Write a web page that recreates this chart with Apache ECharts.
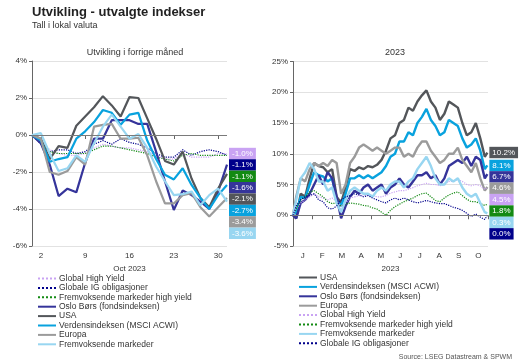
<!DOCTYPE html>
<html><head><meta charset="utf-8">
<script src="https://cdn.jsdelivr.net/npm/echarts@6/dist/echarts.min.js"></script>
<style>html,body{margin:0;padding:0;background:#fff}#c{width:522px;height:363px}</style>
</head><body><div id="c"></div>
<script>
// ---------- DATA ----------
const octDates = ['29.09','02.10','03.10','04.10','05.10','06.10','09.10','10.10','11.10','12.10','13.10','16.10','17.10','18.10','19.10','20.10','23.10','24.10','25.10','26.10','27.10','30.10','31.10'];
const octTickDates = ['02.10','09.10','16.10','23.10','30.10'];
const months = ['J','F','M','A','M','J','J','A','S','O'];
const yearDays = [0,5,12,19,26,33,40,47,54,61,68,75,82,89,96,103,110,117,124,131,138,145,152,159,166,173,180,187,194,201,208,215,222,229,236,243,250,257,264,271,278,285,292,299,303];

// left: October (% since 29.09)
const octGHY   = [0,-0.3,-0.8,-1.0,-1.1,-1.1,-1.0,-0.7,-0.5,-0.6,-0.7,-0.7,-0.8,-0.9,-1.1,-1.3,-1.3,-1.0,-1.2,-1.2,-1.2,-1.0,-1.0];
const octIG    = [0,-0.5,-0.9,-0.8,-0.8,-1.0,-0.9,-0.5,-0.3,-0.5,-0.2,-0.4,-0.5,-0.7,-1.0,-1.2,-1.2,-0.8,-1.1,-0.9,-0.8,-0.9,-1.1];
const octEMHY  = [0,-0.4,-0.9,-1.0,-1.0,-1.0,-1.0,-0.8,-0.6,-0.6,-0.7,-0.8,-0.9,-1.0,-1.2,-1.3,-1.4,-1.1,-1.0,-1.1,-1.1,-1.1,-1.1];
const octOslo  = [0,-0.45,-1.6,-3.3,-2.9,-3.1,-1.5,-0.2,-0.2,0.8,0.8,0.8,0.6,0.6,-0.9,-2.5,-4.05,-3.0,-3.25,-3.6,-4.0,-3.05,-1.6];
const octUSA   = [0,-0.2,-1.3,-0.6,-0.7,0.5,1.0,1.5,2.1,1.6,1.0,2.05,2.0,0.9,-0.2,-1.4,-1.6,-0.9,-2.35,-3.4,-3.9,-2.9,-2.1];
const octACWI  = [0,-0.3,-1.45,-1.3,-1.2,-0.2,0.2,0.7,1.35,1.2,0.55,1.1,1.2,-0.3,-1.3,-2.15,-2.4,-1.8,-2.7,-3.4,-4.0,-3.25,-2.7];
const octEUR   = [0,-0.2,-2.0,-2.15,-1.95,-1.2,-1.6,0.45,0.55,0.6,-0.2,-0.2,-0.15,-1.1,-2.5,-3.7,-3.7,-3.25,-3.15,-3.9,-4.4,-3.9,-3.4];
const octEM    = [0,0.1,-1.0,-1.95,-1.8,-1.1,-1.45,-0.45,0.45,1.1,0.45,-0.2,0.05,-0.7,-1.7,-2.5,-3.25,-3.2,-3.05,-3.8,-3.25,-2.9,-3.6];

// right: 2023 YTD (%), one value per yearDays entry
const yUSA  = [0,-0.5,3.5,3.0,6.0,8.5,8.0,7.8,7.0,7.5,3.0,2.0,4.5,7.5,7.2,7.8,7.5,8.0,7.8,8.2,9.0,10.5,12.5,13.0,15.0,15.5,17.5,17.0,18.5,19.5,20.3,18.5,17.5,15.5,16.5,18.5,18.0,17.5,15.0,13.0,13.5,15.0,12.5,9.5,10.2];
const yACWI = [0,0.5,3.0,2.8,5.0,7.0,6.5,6.3,5.5,6.0,2.5,1.5,3.5,6.0,6.0,6.5,6.0,6.5,6.0,6.5,7.0,8.0,9.5,10.0,12.0,12.0,13.5,13.0,15.0,16.0,17.3,15.5,14.5,13.0,13.5,15.5,15.0,14.5,12.5,11.0,11.5,12.5,10.5,7.5,8.1];
const yOslo = [0,-0.5,2.0,2.5,3.5,5.0,6.5,5.0,7.0,6.0,3.0,-0.5,1.5,3.0,4.0,3.5,4.5,5.0,4.0,4.5,5.0,3.5,4.5,5.0,6.0,5.0,4.5,5.5,6.5,6.5,7.0,6.0,6.5,5.0,6.0,8.0,8.5,9.0,8.5,9.5,8.0,9.5,9.0,6.0,6.7];
const yEUR  = [0,3.0,6.0,5.5,7.5,8.5,8.0,8.5,8.0,9.0,8.5,3.5,5.0,8.5,9.5,11.0,11.5,11.0,10.5,11.0,10.5,10.0,10.5,11.0,11.0,9.5,10.0,9.5,11.0,12.0,12.0,10.5,9.5,8.5,9.0,10.0,10.0,11.0,9.0,8.0,7.0,8.5,6.0,4.0,4.6];
const yGHY  = [0,1.0,2.0,2.5,3.0,3.5,3.0,2.8,2.5,2.8,2.2,1.5,2.0,2.8,3.0,3.2,3.3,3.3,3.2,3.0,3.0,3.2,3.6,3.8,4.0,4.0,4.2,4.5,4.8,5.0,5.2,5.0,5.0,4.8,5.0,5.5,5.5,5.8,5.5,5.0,4.8,5.0,4.8,4.2,4.5];
const yEMHY = [0,1.0,2.5,3.0,3.8,4.0,3.5,3.0,2.2,1.9,2.0,1.5,1.8,2.0,1.9,1.8,1.6,1.5,1.2,1.0,0.5,0.0,0.8,1.4,1.8,2.2,2.5,2.8,3.2,3.5,3.6,3.0,2.4,2.2,2.8,3.3,3.6,3.8,3.2,2.6,2.2,2.2,1.9,1.6,1.8];
const yEM   = [0,2.5,6.0,7.0,8.5,7.5,5.5,5.5,4.0,4.5,2.0,0.5,2.5,4.0,4.5,4.0,3.5,3.5,3.0,4.0,4.5,4.0,5.0,5.5,5.5,4.5,5.5,6.0,7.5,8.5,9.5,8.0,6.0,5.0,5.0,6.0,5.5,6.0,4.5,3.5,3.0,3.5,2.0,0.5,0.3];
const yIG   = [0,1.5,2.5,3.0,3.2,3.5,2.5,2.2,1.2,1.0,1.5,2.5,3.0,3.2,3.5,3.3,3.0,3.2,2.8,2.5,2.2,2.0,2.5,2.8,2.5,2.8,2.5,2.2,2.0,2.2,2.4,2.2,2.0,1.9,1.9,1.6,1.3,1.1,0.8,0.3,-0.2,0.2,-0.3,-0.7,0.0];

// ---------- STYLE ----------
const FONT = '"Liberation Sans", Arial, sans-serif';
const N = {
  ghy:'Global High Yield', ig:'Globale IG obligasjoner', emhy:'Fremvoksende markeder high yield',
  oslo:'Oslo Børs (fondsindeksen)', usa:'USA', acwi:'Verdensindeksen (MSCI ACWI)', eur:'Europa', em:'Fremvoksende markeder'
};
const C = {ghy:'#c9a3f3', ig:'#00008b', emhy:'#138a13', oslo:'#35349a', usa:'#53565a', acwi:'#08a2de', eur:'#9b9b9b', em:'#98d6f1'};
const dotted = {ghy:true, ig:true, emhy:true};
const LABEL_H = 11.4;

function mk(key, data, grid, id){
  const isDot = !!dotted[key];
  return {
    id, name: N[key], type:'line', xAxisIndex: grid===0?0:2, yAxisIndex: grid,
    data: grid===0 ? data : data.map((v,i)=>[yearDays[i], v]),
    symbol:'none', smooth:false,
    lineStyle:{color:C[key], width: isDot?1.2:(grid===0?2.2:2.4), type: isDot?'dotted':'solid'},
    itemStyle:{color:C[key]},
    endLabel:{show:true, formatter: p => (Array.isArray(p.value)?p.value[1]:p.value).toFixed(1)+'%',
      backgroundColor:C[key], color:'#fff', fontFamily:FONT, fontSize:8, lineHeight:9.4,
      padding:[1,3], distance:2},
    emphasis:{disabled:true}
  };
}
const zeroLine = {silent:true, symbol:'none', label:{show:false}, lineStyle:{color:'#7a7a7a', width:1, type:'solid'}, data:[{yAxis:0}]};

const leftOrder = [['ghy',octGHY],['ig',octIG],['emhy',octEMHY],['oslo',octOslo],['usa',octUSA],['acwi',octACWI],['eur',octEUR],['em',octEM]];
const rightOrder = [['usa',yUSA],['acwi',yACWI],['oslo',yOslo],['eur',yEUR],['ghy',yGHY],['emhy',yEMHY],['em',yEM],['ig',yIG]];

const series = [];
leftOrder.forEach(([k,d],i)=>{const s=mk(k,d,0,'L'+i); if(i===0) s.markLine=zeroLine; series.push(s);});
rightOrder.forEach(([k,d],i)=>{const s=mk(k,d,1,'R'+i); if(i===0) s.markLine=zeroLine; series.push(s);});

const isTick = (idx, val) => octTickDates.indexOf(val) >= 0;
const yAxisCommon = {
  type:'value', axisLine:{show:true, lineStyle:{color:'#666'}}, axisTick:{show:true, length:3, lineStyle:{color:'#666'}},
  axisLabel:{formatter:'{value}%', fontSize:8, color:'#333', fontFamily:FONT, margin:5},
  splitLine:{lineStyle:{color:'#e2e2e2'}}
};
const legendCommon = {orient:'vertical', itemWidth:18, itemHeight:7, itemGap:0.4, selectedMode:false,
  itemStyle:{opacity:0},
  textStyle:{fontSize:8.5, lineHeight:8.5, color:'#333', fontFamily:FONT, padding:[0,0,0,-2]}};

const option = {
  animation:false,
  textStyle:{fontFamily:FONT},
  title:[
    {text:'Utvikling - utvalgte indekser', left:27, top:1, textStyle:{fontSize:13, fontWeight:'bold', color:'#222', fontFamily:FONT}},
    {text:'Tall i lokal valuta', left:27, top:16, textStyle:{fontSize:9, fontWeight:'normal', color:'#333', fontFamily:FONT}},
    {text:'Utvikling i forrige måned', left:130, textAlign:'center', top:43, textStyle:{fontSize:9, fontWeight:'normal', color:'#333', fontFamily:FONT}},
    {text:'2023', left:390, textAlign:'center', top:43, textStyle:{fontSize:9, fontWeight:'normal', color:'#333', fontFamily:FONT}},
    {text:'Source: LSEG Datastream & SPWM', right:5, top:349, textStyle:{fontSize:7, fontWeight:'normal', color:'#555', fontFamily:FONT}}
  ],
  grid:[
    {left:32, top:61, width:195, height:185},
    {left:293, top:61.5, width:195, height:184.5}
  ],
  xAxis:[
    {type:'category', gridIndex:0, data:octDates, boundaryGap:false,
     axisLine:{show:false}, axisTick:{show:true, interval:isTick, length:4, lineStyle:{color:'#666'}},
     axisLabel:{interval:isTick, formatter:v=>String(parseInt(v,10)), fontSize:8, color:'#333', fontFamily:FONT, margin:6},
     splitLine:{show:false},
     name:'Oct 2023', nameLocation:'middle', nameGap:17, nameTextStyle:{fontSize:8, color:'#333', fontFamily:FONT}},
    {type:'category', gridIndex:1, data:months, boundaryGap:true,
     axisLine:{show:false}, axisTick:{show:true, length:4, lineStyle:{color:'#666'}},
     axisLabel:{fontSize:8, color:'#333', fontFamily:FONT, margin:6},
     name:'2023', nameLocation:'middle', nameGap:17, nameTextStyle:{fontSize:8, color:'#333', fontFamily:FONT}},
    {type:'value', gridIndex:1, min:0, max:304, show:false}
  ],
  yAxis:[
    Object.assign({}, yAxisCommon, {gridIndex:0, min:-6, max:4, interval:2}),
    Object.assign({}, yAxisCommon, {gridIndex:1, min:-5, max:25, interval:5})
  ],
  legend:[
    Object.assign({}, legendCommon, {left:32, top:269, data:leftOrder.map(([k])=>N[k])}),
    Object.assign({}, legendCommon, {left:293, top:268, data:rightOrder.map(([k])=>N[k])})
  ],
  series
};
const chart = echarts.init(document.getElementById('c'), null, {renderer:'canvas'});
chart.setOption(option);

// stack end labels per panel so they don't overlap (sorted by value, pushed downward)
function stack(order, prefix, yAxisIndex){
  const items = order.map(([k,d],i)=>{
    const v = d[d.length-1];
    return {id: prefix+i, i, py: chart.convertToPixel({yAxisIndex}, v)};
  });
  items.sort((a,b)=> (a.py - b.py) || (a.i - b.i));
  let prev = -Infinity;
  return items.map(it=>{
    const t = Math.max(it.py, prev + LABEL_H);
    prev = t;
    return {id: it.id, labelLayout:{dy: t - it.py}};
  });
}
chart.setOption({series: stack(leftOrder,'L',0).concat(stack(rightOrder,'R',1))});
</script></body></html>
